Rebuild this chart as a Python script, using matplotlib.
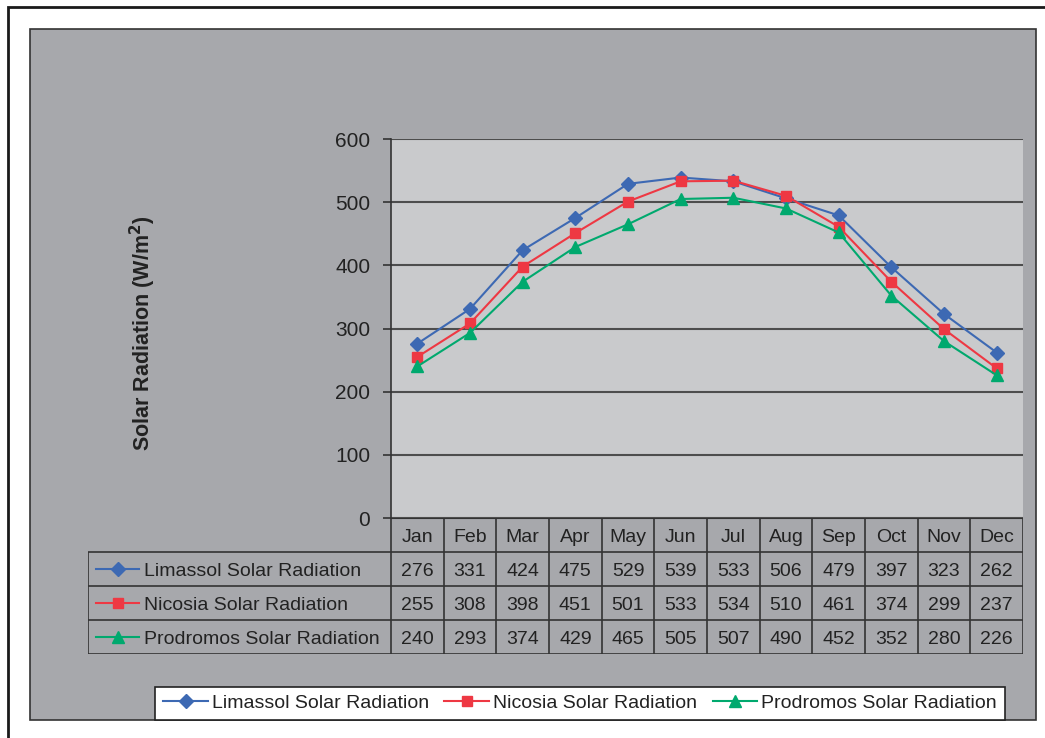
import matplotlib
matplotlib.use('Agg')
import matplotlib.pyplot as plt
from matplotlib.patches import Rectangle

plt.rcParams['font.family'] = ['Liberation Sans', 'DejaVu Sans']

months = ['Jan', 'Feb', 'Mar', 'Apr', 'May', 'Jun', 'Jul', 'Aug', 'Sep', 'Oct', 'Nov', 'Dec']
limassol = [276, 331, 424, 475, 529, 539, 533, 506, 479, 397, 323, 262]
nicosia = [255, 308, 398, 451, 501, 533, 534, 510, 461, 374, 299, 237]
prodromos = [240, 293, 374, 429, 465, 505, 507, 490, 452, 352, 280, 226]
series_names = ['Limassol Solar Radiation', 'Nicosia Solar Radiation', 'Prodromos Solar Radiation']
yticks = [0, 100, 200, 300, 400, 500, 600]

colors = ['#3d69b3', '#ee3843', '#00a96e']
markers = ['D', 's', '^']
msizes = [7, 7, 8.5]

W, H = 1045, 738
fig = plt.figure(figsize=(W / 100, H / 100), dpi=100, facecolor='white')


def box(l, t, r, b):
    # pixel box (left, top, right, bottom) -> figure fraction rect
    return [l / W, 1 - b / H, (r - l) / W, (b - t) / H]


# outer frame and grey chart area
fig.patches.append(Rectangle((8 / W, -0.1), 1.2, 1 - 7 / H + 0.1, transform=fig.transFigure,
                             facecolor='white', edgecolor='#1a1a1a', lw=2, zorder=-3))
gx = box(30, 29, 1036, 720)
fig.patches.append(Rectangle((gx[0], gx[1]), gx[2], gx[3], transform=fig.transFigure,
                             facecolor='#a7a8ac', edgecolor='#333333', lw=1.2, zorder=-2))

# plot area
ax = fig.add_axes(box(391, 139, 1023, 518))
ax.set_facecolor('#c9cacc')
data = [limassol, nicosia, prodromos]
x = list(range(len(months)))
handles = []
for vals, c, m, ms, name in zip(data, colors, markers, msizes, series_names):
    h, = ax.plot(x, vals, color=c, marker=m, markersize=ms, lw=1.5, label=name,
                 markeredgecolor=c, clip_on=False, zorder=3)
    handles.append(h)
ax.set_xlim(-0.5, 11.5)
ax.set_ylim(0, 600)
ax.set_yticks(yticks)
ax.set_xticks([])
ax.yaxis.grid(True, color='#4d4d4d', lw=1.5)
ax.set_axisbelow(True)
for s in ['top', 'right', 'bottom']:
    ax.spines[s].set_visible(False)
ax.spines['left'].set_color('#333333')
ax.spines['left'].set_linewidth(1.2)
ax.tick_params(axis='y', direction='out', length=6, width=1.2, color='#333333',
               labelsize=15, labelcolor='#222222', pad=9)

fig.text(143 / W, 1 - 333 / H, 'Solar Radiation (W/m$^\\mathbf{2}$)', rotation=90,
         ha='center', va='center', fontsize=15.5, fontweight='bold', color='#222222')

# data table under the plot, sharing the month positions
ax_t = fig.add_axes(box(88, 518, 1023, 654))
ax_t.set_facecolor('none')
ax_t.axis('off')
unit = 632 / 12
left = -0.5 - 303 / unit
ax_t.set_xlim(left, 11.5)
ax_t.set_ylim(4, 0)
lc = '#333333'
ax_t.hlines([0], -0.5, 11.5, color=lc, lw=1.5)
ax_t.hlines([1, 2, 3, 4], left, 11.5, color=lc, lw=1.2)
ax_t.vlines([i - 0.5 for i in range(13)], 0, 4, color=lc, lw=1.2)
ax_t.vlines([left], 1, 4, color=lc, lw=1.2)
for i, mname in enumerate(months):
    ax_t.text(i, 0.5, mname, ha='center', va='center_baseline', fontsize=14, color='#222222')
for r, (vals, c, m, ms, name) in enumerate(zip(data, colors, markers, msizes, series_names)):
    y = r + 1.5
    x0 = left + 8 / unit
    x1 = left + 51 / unit
    ax_t.plot([x0, (x0 + x1) / 2, x1], [y, y, y], color=c, lw=1.5, marker=m,
              markersize=ms, markevery=[1], clip_on=False)
    ax_t.text(left + 56 / unit, y, name, ha='left', va='center_baseline', fontsize=14,
              color='#222222')
    for i, v in enumerate(vals):
        ax_t.text(i, y, str(v), ha='center', va='center_baseline', fontsize=14, color='#222222')

leg = fig.legend(handles=handles, labels=series_names, loc='lower center', ncol=3,
                 bbox_to_anchor=(580 / W, 1 - 720 / H), borderaxespad=0, fontsize=14,
                 frameon=True, fancybox=False, framealpha=1, facecolor='white',
                 edgecolor='#222222', handlelength=2.3, handletextpad=0.2,
                 columnspacing=0.8, borderpad=0.4)
leg.get_frame().set_linewidth(1.2)
for t in leg.get_texts():
    t.set_color('#222222')

fig.savefig('out.png', dpi=100, facecolor='white')
